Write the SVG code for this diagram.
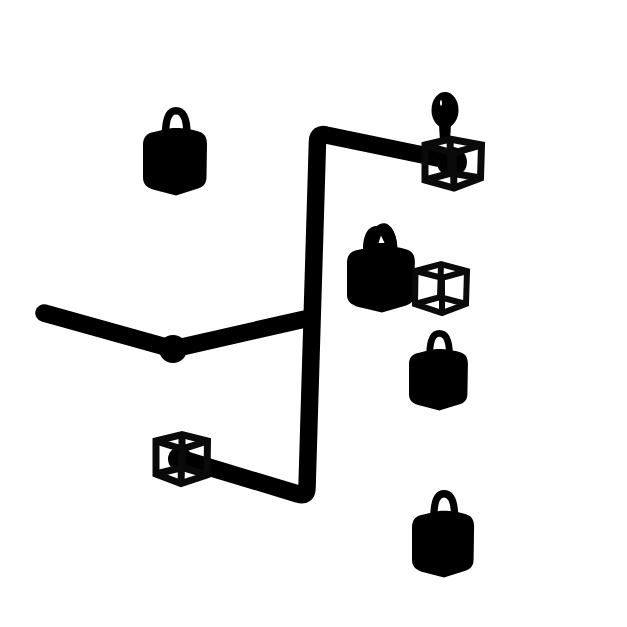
<svg xmlns="http://www.w3.org/2000/svg" width="627" height="627" viewBox="0 0 627 627">
<style>
.wire{fill:none;stroke:#000;stroke-width:17.500;stroke-linecap:round;stroke-linejoin:round}
.cube{fill:none;stroke:#0a0a0a;stroke-width:7;stroke-linejoin:miter;stroke-miterlimit:3}
.fill{fill:#000}
.shackle{fill:none;stroke:#000;stroke-width:7.500}
</style>
<defs>
<g id="lock">
<path class="shackle" d="M22.500 28C22.500 11 26 3.800 33 3.800S44 11 44 28"/>
<path class="fill" d="M0 38C0 30 4 26 11 25C20 23 26 21 33 21S52 23 57 25C62 27 64 31 64 37L63.500 70C63.500 77 60 80 55 81.500L33 88.500L10 82.500C3 80 0 77 0 70Z"/>
</g>
</defs>
<g id="connectors">
<path class="wire" d="M452 161L326 135Q318 133 317.500 141L307 488Q307 497 298 494L182 459"/>
<path class="wire" d="M44 313L173 349L305 319"/>
</g>
<g id="lock-1"><use href="#lock" transform="translate(143 107)"/></g>
<g id="lock-2">
<path class="fill" d="M363 250C363 233 369 226 377 226C384 219 397 224 397 250Z"/>
<use href="#lock" transform="translate(347 225) scale(1.060 0.99)"/>
<path d="M378.500 243L381 235.500L384.500 243Z" fill="#fff"/>
</g>
<g id="lock-3"><use href="#lock" transform="translate(409 330) scale(0.92 0.91)"/></g>
<g id="lock-4"><use href="#lock" transform="translate(412 490) scale(0.97 0.99)"/></g>
<g id="cube-top">
<ellipse class="fill" cx="445" cy="110" rx="13.500" ry="18"/>
<path class="fill" d="M439 124H451L450 142H440Z"/>
<ellipse cx="441" cy="103" rx="1" ry="3" fill="#fff"/>
<circle class="fill" cx="452" cy="162" r="15"/>
<path class="cube" d="M425 145L450 139L481.500 145L480.500 178L454 188L425 180Z"/>
<path class="cube" d="M425 145L453 153L481.500 145M453 153L454 188M425 180L451 173L480.500 178M450 139L451 173"/>
</g>
<g id="cube-middle">
<path class="cube" style="stroke-width:6" d="M415.500 271L441 264L467 271L466 304L442 313L415 304Z"/>
<path class="cube" style="stroke-width:6" d="M415.500 271L442 278L467 271M442 278L442 313M415 304L440 297L466 304M441 264L440 297"/>
</g>
<g id="cube-bottom">
<circle class="fill" cx="180" cy="459" r="12"/>
<path class="cube" d="M156 441L182 434.500L207.500 441L207 475L181 483.500L156 474Z"/>
<path class="cube" d="M156 441L182 449L207.500 441M182 449L181 483.500M156 474L182 467.500L207 475M182 434.500L182 467.500"/>
</g>
<g id="junction"><circle class="fill" cx="173" cy="349" r="14"/></g>
</svg>
